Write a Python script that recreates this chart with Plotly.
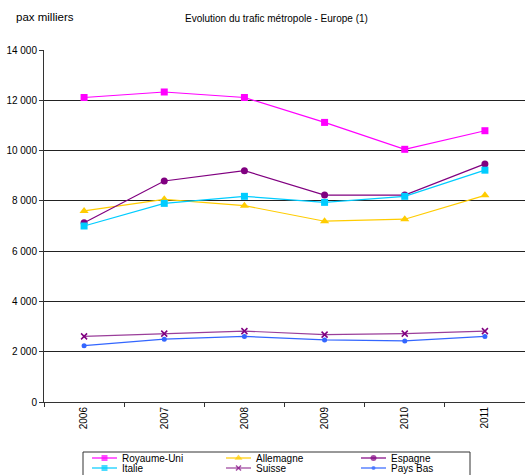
import plotly.graph_objects as go

# Passenger traffic, mainland France - Europe (thousands of passengers)
years = ["2006", "2007", "2008", "2009", "2010", "2011"]
royaume_uni = [12110, 12330, 12110, 11120, 10050, 10790]
allemagne = [7600, 8060, 7810, 7190, 7270, 8220]
espagne = [7130, 8790, 9200, 8230, 8230, 9470]
italie = [7000, 7900, 8180, 7940, 8180, 9220]
suisse = [2610, 2720, 2820, 2680, 2720, 2820]
pays_bas = [2240, 2500, 2610, 2470, 2430, 2610]

series = [
    ("Royaume-Uni", royaume_uni, "#FF00FF", "square", 7),
    ("Allemagne", allemagne, "#FFCC00", "triangle-up", 8),
    ("Espagne", espagne, "#800080", "circle", 7),
    ("Italie", italie, "#00CCFF", "square", 7),
    ("Suisse", suisse, "#800080", "x-thin-open", 6),
    ("Pays Bas", pays_bas, "#3366FF", "circle", 5),
]

W, H = 525, 475
fig = go.Figure()

for name, vals, color, sym, size in series:
    line_color = "#9A3E9A" if name == "Suisse" else color
    fig.add_trace(go.Scatter(
        x=years, y=vals, name=name, mode="lines+markers",
        line=dict(color=line_color, width=1.2),
        marker=dict(symbol=sym, size=size, color=color,
                    line=dict(color=color, width=1.5 if sym.endswith("open") else 0)),
        showlegend=False, xaxis="x", yaxis="y",
    ))

# Legend drawn in pixel space on an overlay axis pair
box = dict(x0=83, x1=470, y0=452, y1=480)
cols = [92, 226, 361]
rows = [458, 468]
shapes = [dict(type="rect", xref="x2", yref="y2", line=dict(color="#333", width=1),
               fillcolor="rgba(0,0,0,0)", **box)]
annotations = []
for i, (name, vals, color, sym, size) in enumerate(series):
    cx = cols[i % 3]
    cy = rows[i // 3]
    line_color = "#9A3E9A" if name == "Suisse" else color
    fig.add_trace(go.Scatter(
        x=[cx, cx + 12.5, cx + 25], y=[cy, cy, cy], mode="lines+markers",
        line=dict(color=line_color, width=1.2),
        marker=dict(symbol=sym, size=[0, size - 1, 0], color=color,
                    line=dict(color=color, width=1.5 if sym.endswith("open") else 0)),
        showlegend=False, hoverinfo="skip", xaxis="x2", yaxis="y2",
    ))
    annotations.append(dict(xref="x2", yref="y2", x=cx + 28, y=cy, text=name,
                            showarrow=False, xanchor="left", yanchor="middle",
                            font=dict(size=10, color="#000")))

annotations.append(dict(xref="x2", yref="y2", x=14, y=17, text="pax milliers",
                        showarrow=False, xanchor="left", yanchor="middle",
                        font=dict(size=11.5, color="#000")))
annotations.append(dict(xref="x2", yref="y2", x=276, y=18,
                        text="Evolution du trafic métropole - Europe (1)",
                        showarrow=False, xanchor="center", yanchor="middle",
                        font=dict(size=10, color="#000")))

fig.update_layout(
    template="none",
    width=W, height=H,
    margin=dict(l=0, r=0, t=0, b=0, pad=0),
    paper_bgcolor="white", plot_bgcolor="rgba(0,0,0,0)",
    separators=", ",
    font=dict(family="Liberation Sans, Arial, sans-serif", size=10, color="#000"),
    shapes=shapes, annotations=annotations,
    xaxis=dict(type="category", domain=[44 / W, 1], range=[-0.5, 5.5],
               anchor="y", automargin=False, showgrid=False, showline=True,
               linecolor="#333", linewidth=1, ticks="outside",
               tickson="boundaries", ticklen=4, tickcolor="#333",
               tickangle=-90, tickfont=dict(size=10),
               zeroline=False, fixedrange=True),
    yaxis=dict(domain=[(H - 402) / H, (H - 50) / H], range=[0, 14000],
               anchor="x", automargin=False, dtick=2000, tickformat=",d",
               showgrid=True, gridcolor="#222", gridwidth=1, showline=True,
               linecolor="#333", linewidth=1, ticks="outside", ticklen=4,
               tickcolor="#333", tickfont=dict(size=10), zeroline=False,
               fixedrange=True),
    xaxis2=dict(domain=[0, 1], range=[0, W], visible=False, anchor="y2",
                automargin=False, fixedrange=True),
    yaxis2=dict(domain=[0, 1], range=[H, 0], visible=False, anchor="x2",
                automargin=False, fixedrange=True),
)

fig.write_html("out.html")
